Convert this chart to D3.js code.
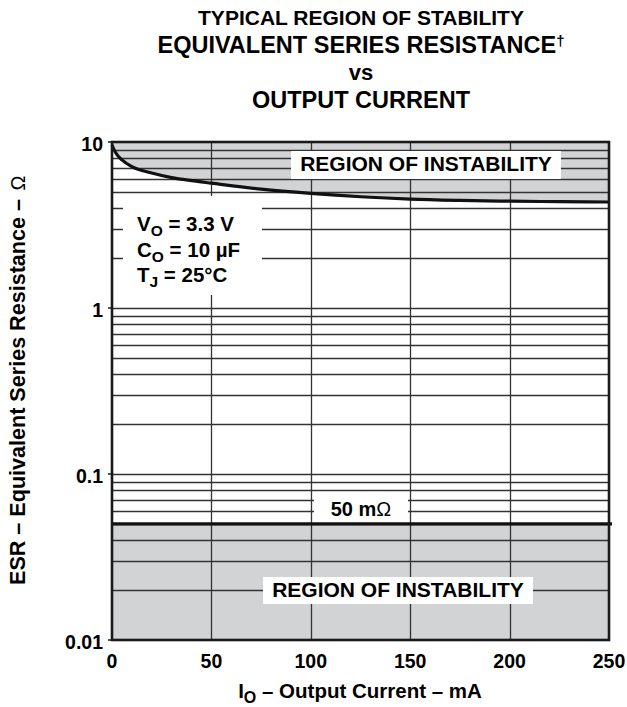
<!DOCTYPE html>
<html>
<head>
<meta charset="utf-8">
<script src="https://cdn.jsdelivr.net/npm/d3@7/dist/d3.min.js"></script>
<style>
  body { margin: 0; background: #fff; }
  svg { font-family: "Liberation Sans", Arial, sans-serif; font-weight: bold; }
</style>
</head>
<body>
<svg width="627" height="707"></svg>
<script>
// values
const currentTicks = [0, 50, 100, 150, 200, 250];
const esrTicks = [0.01, 0.1, 1, 10];
const esrTickLabels = ["0.01", "0.1", "1", "10"];
const curveCurrent = [0, 1, 2.5, 5, 10, 20, 30, 40, 50, 75, 100, 125, 150, 175, 200, 225, 250];
const curveEsr = [9.6, 9.0, 8.4, 7.8, 7.1, 6.5, 6.1, 5.85, 5.65, 5.2, 4.9, 4.68, 4.53, 4.45, 4.4, 4.37, 4.35];
const minEsr = 0.05;
const titleLines = ["TYPICAL REGION OF STABILITY", "EQUIVALENT SERIES RESISTANCE", "vs", "OUTPUT CURRENT"];
const condMain = ["V", "C", "T"];
const condSub = ["O", "O", "J"];
const condRest = [" = 3.3 V", " = 10 \u00b5F", " = 25\u00b0C"];

var svg = d3.select("svg");

var x = d3.scaleLinear().domain([0, 250]).range([112, 609]);
var y = d3.scaleLog().domain([0.01, 10]).range([640, 142]);

var gray = "#d2d3d5";

// shaded regions
svg.append("path")
  .datum(d3.zip(curveCurrent, curveEsr))
  .attr("fill", gray)
  .attr("d", d3.area()
    .x(d => x(d[0]))
    .y0(y(10))
    .y1(d => y(d[1]))
    .curve(d3.curveMonotoneX));

svg.append("rect")
  .attr("x", x(0))
  .attr("y", y(minEsr))
  .attr("width", x(250) - x(0))
  .attr("height", y(0.01) - y(minEsr))
  .attr("fill", gray);

// grid
var grid = svg.append("g").attr("stroke", "#333").attr("stroke-width", 1.3);

grid.selectAll("hline")
  .data(y.ticks().filter(d => d > 0.0101 && d < 9.99))
  .enter()
  .append("line")
  .attr("x1", x(0))
  .attr("x2", x(250))
  .attr("y1", d => Math.round(y(d)) + 0.5)
  .attr("y2", d => Math.round(y(d)) + 0.5);

grid.selectAll("vline")
  .data(currentTicks.slice(1, -1))
  .enter()
  .append("line")
  .attr("x1", d => Math.round(x(d)) + 0.5)
  .attr("x2", d => Math.round(x(d)) + 0.5)
  .attr("y1", y(10))
  .attr("y2", y(0.01));

// white label boxes
function box(x0, y0, x1, y1) {
  svg.append("rect")
    .attr("x", x0).attr("y", y0)
    .attr("width", x1 - x0).attr("height", y1 - y0)
    .attr("fill", "#fff");
}
box(291, 151, 561, 179);
box(123, 196, 262, 295);
box(314, 497, 408, 525);
box(263, 577, 533, 604);

svg.append("text")
  .attr("x", 426).attr("y", 171)
  .attr("text-anchor", "middle")
  .attr("font-size", 21)
  .text("REGION OF INSTABILITY");

svg.append("text")
  .attr("x", 398).attr("y", 597)
  .attr("text-anchor", "middle")
  .attr("font-size", 21)
  .text("REGION OF INSTABILITY");

var mo = svg.append("text")
  .attr("x", 361).attr("y", 516)
  .attr("text-anchor", "middle")
  .attr("font-size", 20);
mo.append("tspan").text("50 m");
mo.append("tspan").attr("font-weight", "normal").text("\u03a9");

// test conditions
condMain.forEach(function(m, i) {
  var t = svg.append("text")
    .attr("x", 137)
    .attr("y", 231 + i * 25.5)
    .attr("font-size", 20.5);
  t.append("tspan").text(m);
  t.append("tspan").attr("font-size", 15.5).attr("dy", 5).text(condSub[i]);
  t.append("tspan").attr("dy", -5).text(condRest[i]);
});

// curve and minimum ESR line
svg.append("path")
  .datum(d3.zip(curveCurrent, curveEsr))
  .attr("fill", "none")
  .attr("stroke", "#111")
  .attr("stroke-width", 3.2)
  .attr("d", d3.line()
    .x(d => x(d[0]))
    .y(d => y(d[1]))
    .curve(d3.curveMonotoneX));

svg.append("line")
  .attr("x1", x(0)).attr("x2", x(250) + 3)
  .attr("y1", y(minEsr)).attr("y2", y(minEsr))
  .attr("stroke", "#111")
  .attr("stroke-width", 3.2);

// frame
svg.append("rect")
  .attr("x", x(0)).attr("y", y(10))
  .attr("width", x(250) - x(0))
  .attr("height", y(0.01) - y(10))
  .attr("fill", "none")
  .attr("stroke", "#1a1a1a")
  .attr("stroke-width", 2.6);

// y tick stubs and labels
svg.selectAll("ystub")
  .data(esrTicks)
  .enter()
  .append("line")
  .attr("x1", x(0) - 4).attr("x2", x(0))
  .attr("y1", d => y(d)).attr("y2", d => y(d))
  .attr("stroke", "#1a1a1a")
  .attr("stroke-width", 1.5);

svg.selectAll("ylabel")
  .data(esrTicks)
  .enter()
  .append("text")
  .attr("x", 103)
  .attr("y", d => y(d) + 9)
  .attr("text-anchor", "end")
  .attr("font-size", 19.5)
  .text((d, i) => esrTickLabels[i]);

svg.selectAll("xlabel")
  .data(currentTicks)
  .enter()
  .append("text")
  .attr("x", d => x(d))
  .attr("y", 668)
  .attr("text-anchor", "middle")
  .attr("font-size", 19.5)
  .text(d => d);

// axis titles
var xt = svg.append("text")
  .attr("x", 360).attr("y", 698)
  .attr("text-anchor", "middle")
  .attr("font-size", 20.5);
xt.append("tspan").text("I");
xt.append("tspan").attr("font-size", 16).attr("dy", 5).text("O");
xt.append("tspan").attr("dy", -5).text(" \u2013 Output Current \u2013 mA");

svg.append("text")
  .attr("transform", "translate(25,585) rotate(-90)")
  .attr("font-size", 21.5)
  .attr("textLength", 386)
  .attr("lengthAdjust", "spacingAndGlyphs")
  .text("ESR \u2013 Equivalent Series Resistance \u2013");

svg.append("text")
  .attr("transform", "translate(25,183) rotate(-90)")
  .attr("text-anchor", "middle")
  .attr("font-size", 20)
  .attr("font-weight", "normal")
  .text("\u03a9");

// title
var titleY = [25, 53, 80, 108];
var titleSize = [21, 23.5, 22, 23.5];
titleLines.forEach(function(s, i) {
  var t = svg.append("text")
    .attr("x", 361)
    .attr("y", titleY[i])
    .attr("text-anchor", "middle")
    .attr("font-size", titleSize[i])
    .text(s);
  if (i == 1) t.append("tspan").attr("font-size", 15).attr("dy", -7).text("\u2020");
});
</script>
</body>
</html>
